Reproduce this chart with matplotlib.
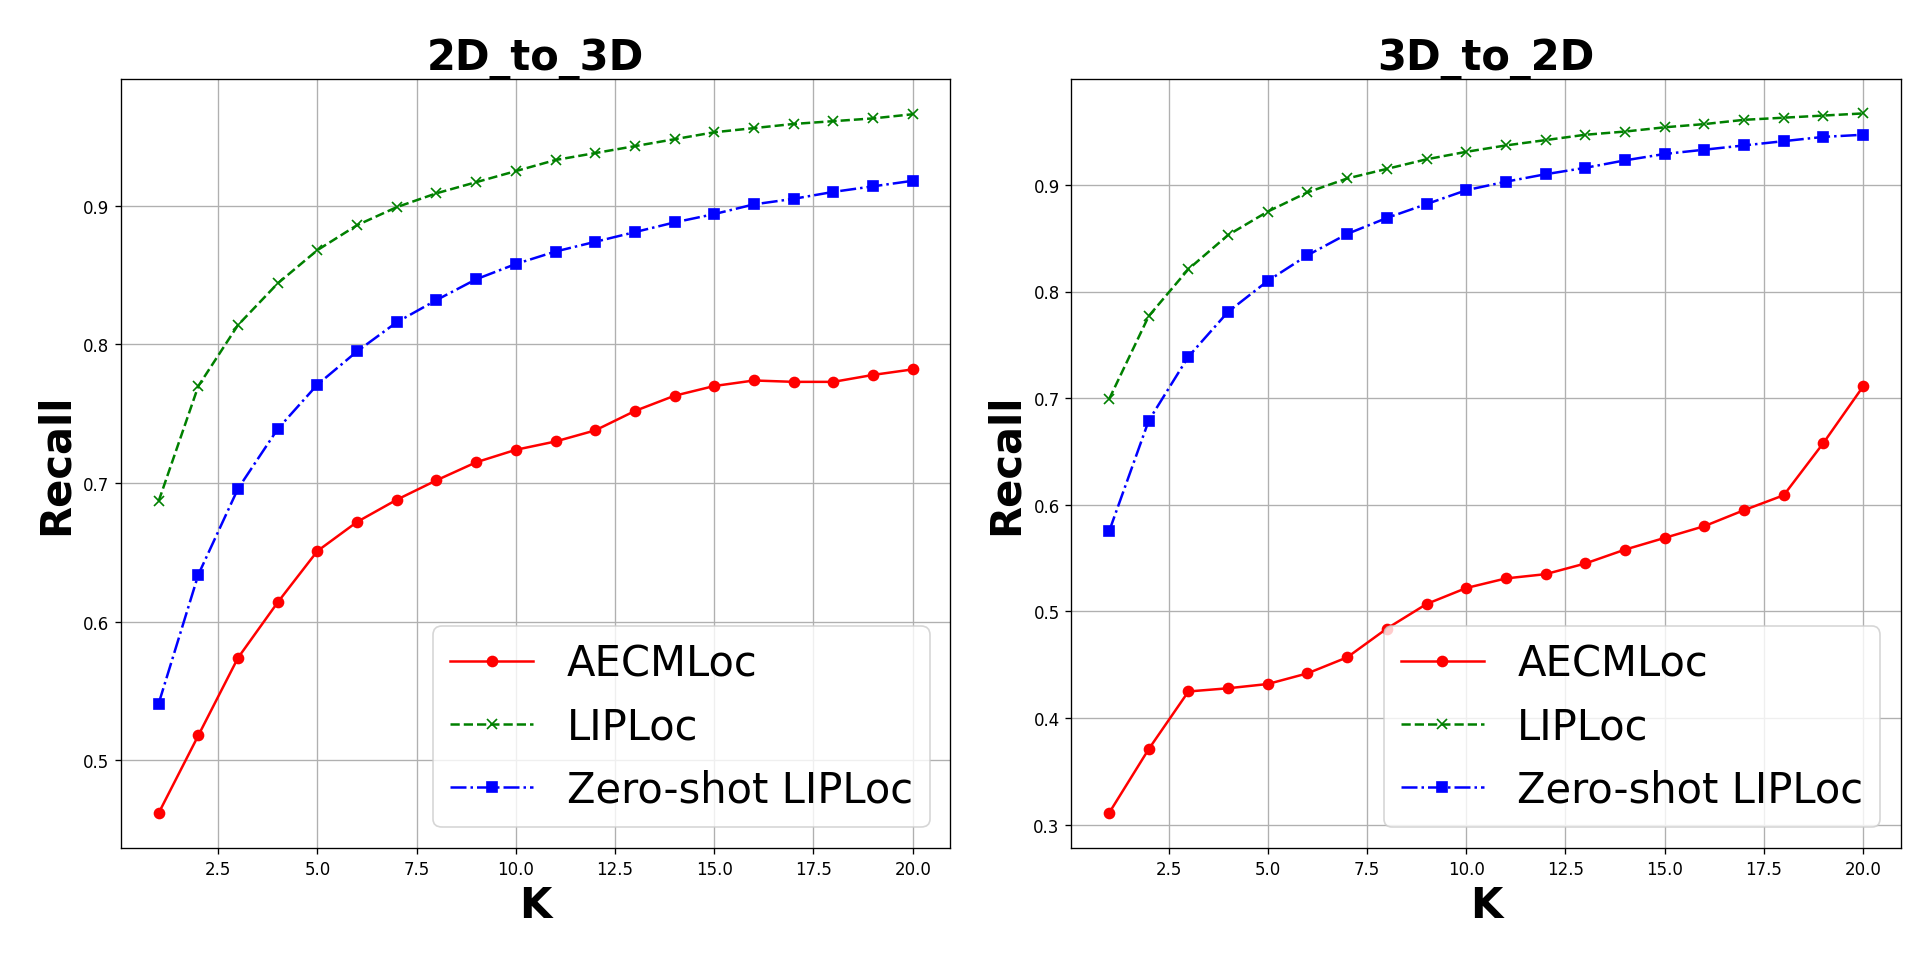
import matplotlib
matplotlib.use('Agg')
import matplotlib.pyplot as plt

K = list(range(1, 21))

# 2D_to_3D
aecm_2d3d = [0.462, 0.518, 0.574, 0.614, 0.651, 0.672, 0.688, 0.702, 0.715, 0.724,
             0.730, 0.738, 0.752, 0.763, 0.770, 0.774, 0.773, 0.773, 0.778, 0.782]
liploc_2d3d = [0.687, 0.770, 0.814, 0.844, 0.868, 0.886, 0.899, 0.909, 0.917, 0.925,
               0.933, 0.938, 0.943, 0.948, 0.953, 0.956, 0.959, 0.961, 0.963, 0.966]
zeroshot_2d3d = [0.541, 0.634, 0.696, 0.739, 0.771, 0.795, 0.816, 0.832, 0.847, 0.858,
                 0.867, 0.874, 0.881, 0.888, 0.894, 0.901, 0.905, 0.910, 0.914, 0.918]

# 3D_to_2D
aecm_3d2d = [0.311, 0.371, 0.425, 0.428, 0.432, 0.442, 0.457, 0.484, 0.507, 0.522,
             0.531, 0.535, 0.545, 0.558, 0.569, 0.580, 0.595, 0.609, 0.658, 0.711]
liploc_3d2d = [0.699, 0.777, 0.821, 0.853, 0.875, 0.893, 0.906, 0.915, 0.924, 0.931,
               0.937, 0.942, 0.947, 0.950, 0.954, 0.957, 0.961, 0.963, 0.965, 0.967]
zeroshot_3d2d = [0.575, 0.679, 0.739, 0.781, 0.810, 0.834, 0.854, 0.869, 0.882, 0.895,
                 0.903, 0.910, 0.916, 0.923, 0.929, 0.933, 0.937, 0.941, 0.945, 0.947]

panels = [
    ('2D_to_3D', aecm_2d3d, liploc_2d3d, zeroshot_2d3d),
    ('3D_to_2D', aecm_3d2d, liploc_3d2d, zeroshot_3d2d),
]

fig = plt.figure(figsize=(16, 8.058), dpi=120)
positions = [[0.063, 0.122, 0.432, 0.795], [0.558, 0.122, 0.432, 0.795]]

for pos, (title, aecm, liploc, zeroshot) in zip(positions, panels):
    ax = fig.add_axes(pos)
    ax.plot(K, aecm, color='red', marker='o', linestyle='-', label='AECMLoc')
    ax.plot(K, liploc, color='green', marker='x', linestyle='--', label='LIPLoc')
    ax.plot(K, zeroshot, color='blue', marker='s', linestyle='-.', label='Zero-shot LIPLoc')
    ax.set_title(title, fontsize=25, fontweight='bold')
    ax.set_xlabel('K', fontsize=25, fontweight='bold')
    ax.set_ylabel('Recall', fontsize=25, fontweight='bold')
    ax.legend(fontsize=25, loc='lower right')
    ax.grid(True)
    # keep the top limit just under 1.0 like the original
    lo, hi = ax.get_ylim()
    if hi > 0.995:
        ax.set_ylim(lo, 0.999)

fig.savefig('out.png', dpi=120)
